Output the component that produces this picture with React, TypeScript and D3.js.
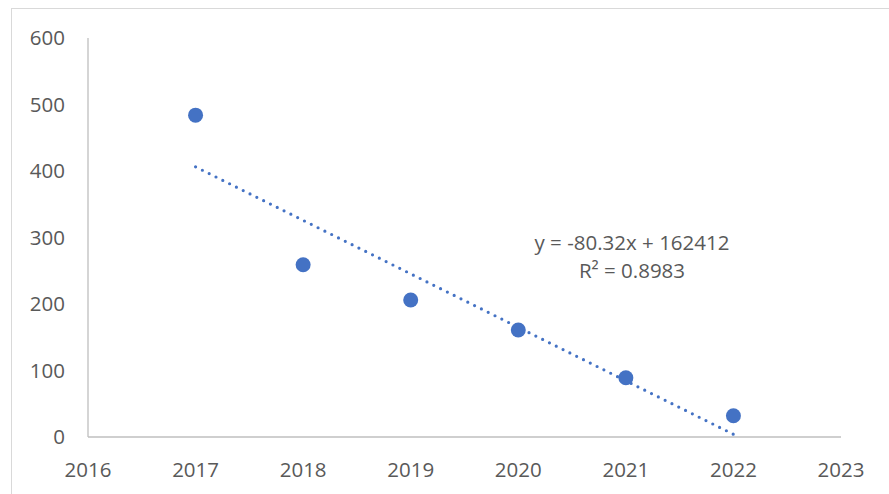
import * as d3 from 'd3'
import React from 'react'

const years = [2017, 2018, 2019, 2020, 2021, 2022]
const values = [484, 259, 206, 161, 89, 32]
const xTicks = [2016, 2017, 2018, 2019, 2020, 2021, 2022, 2023]
const yTicks = [0, 100, 200, 300, 400, 500, 600]
const equationLines = ['y = -80.32x + 162412', 'R² = 0.8983']

const W = 889
const H = 494
const font = "'Open Sans', 'Noto Sans', sans-serif"
const blue = '#4472C4'
const grey = '#595959'

const App = () => {
  const x = d3.scaleLinear().domain([2016, 2023]).range([88, 841])
  const y = d3.scaleLinear().domain([0, 600]).range([437, 38])

  // least squares fit, like the Excel trendline
  const mx = d3.mean(years)
  const my = d3.mean(values)
  const slope =
    d3.sum(years, (v, i) => (v - mx) * (values[i] - my)) / d3.sum(years, (v) => (v - mx) ** 2)
  const icpt = my - slope * mx
  const [x0, x1] = d3.extent(years)
  const trend = d3.line()([
    [x(x0), y(slope * x0 + icpt)],
    [x(x1), y(slope * x1 + icpt)],
  ])

  return (
    <svg
      width={W}
      height={H}
      style={{ position: 'fixed', left: 0, top: 0, background: '#fff' }}
      fontFamily={font}
    >
      <rect x={11.5} y={8.5} width={W} height={H} fill="#fff" stroke="#d9d9d9" />
      <line x1={x(2016)} x2={x(2016)} y1={y(600)} y2={y(0)} stroke="#bfbfbf" strokeWidth={1.3} />
      <line x1={x(2016)} x2={x(2023)} y1={y(0)} y2={y(0)} stroke="#bfbfbf" strokeWidth={1.3} />
      {yTicks.map((t) => (
        <text key={t} x={65} y={y(t)} dy="0.36em" textAnchor="end" fontSize={20.5} fill={grey}>
          {t}
        </text>
      ))}
      {xTicks.map((t) => (
        <text key={t} x={x(t)} y={477} textAnchor="middle" fontSize={20.5} fill={grey}>
          {t}
        </text>
      ))}
      <path
        d={trend}
        fill="none"
        stroke={blue}
        strokeWidth={3.2}
        strokeLinecap="round"
        strokeDasharray="0 7.6"
      />
      {years.map((yr, i) => (
        <circle key={yr} cx={x(yr)} cy={y(values[i])} r={7.5} fill={blue} />
      ))}
      {equationLines.map((s, i) => (
        <text key={s} x={632} y={250 + i * 28} textAnchor="middle" fontSize={20.5} fill={grey}>
          {s}
        </text>
      ))}
    </svg>
  )
}

export default App
